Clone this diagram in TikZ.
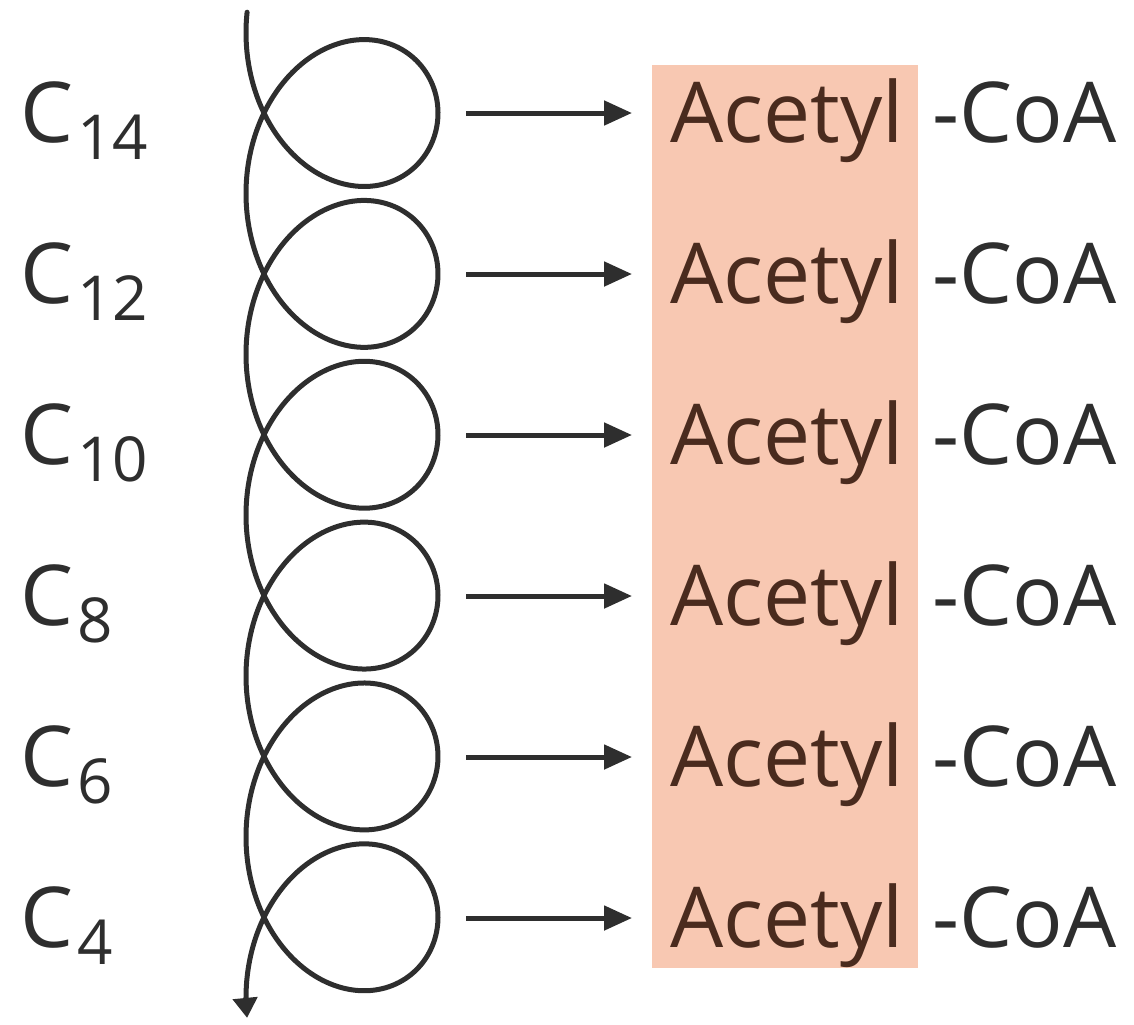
\documentclass[tikz,border=0pt]{standalone}
\usepackage{fontspec}
\setmainfont{Open Sans}
\usetikzlibrary{arrows.meta}
\definecolor{peach}{HTML}{F8C8B2}
\definecolor{ink}{HTML}{2E2E2E}
\definecolor{brownink}{HTML}{4A2B1E}
\tikzset{
  curve/.style={draw=ink, line width=2.5pt, line cap=round},
  flow/.style={draw=ink, line width=2.5pt, -{Triangle[length=14pt,width=12pt]}},
  lbl/.style={inner sep=0pt, anchor=base west, font=\fontsize{42}{50}\selectfont, text=ink},
  acet/.style={inner sep=0pt, anchor=base west, font=\fontsize{42}{50}\selectfont, text=brownink},
}
\newcommand{\csub}[1]{C\hspace{2pt}\raisebox{-8.5pt}{\fontsize{31}{31}\selectfont #1}}
\begin{document}
\begin{tikzpicture}[x=0.5pt,y=-0.5pt]
\useasboundingbox (0,0) rectangle (1134,1024);
\fill[peach] (652,65) rectangle (918,968);
\draw[curve, -{Triangle[length=10pt,width=12pt]}] plot[domain=-0.15:37.85, samples=900, variable=\t, smooth]
  ({342-96*cos(\t r)}, {32.6+25.6*\t+110.7*sin(\t r)});
\foreach \k/\n in {0/14,1/12,2/10,3/8,4/6,5/4}{
  \pgfmathsetmacro{\yc}{113+161*\k}
  \pgfmathsetmacro{\yb}{142+161*\k}
  \node[lbl] (c\k) at (20,\yb) {\csub{\n}};
  \coordinate (s\k) at (466,\yc);
  \node[acet] (a\k) at (670,\yb) {Acetyl};
  \node[lbl] (co\k) at (932,\yb) {-CoA};
  \coordinate (e\k) at (632,\yc);
  \draw[flow] (s\k) -- (e\k);
}
\end{tikzpicture}
\end{document}
